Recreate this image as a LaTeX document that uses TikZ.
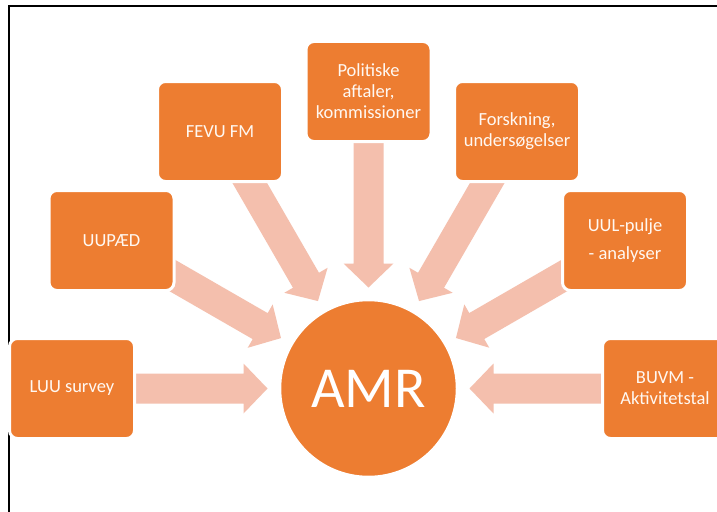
\documentclass[tikz,border=0pt]{standalone}
\usepackage{fontspec}
\setmainfont{Carlito}
\usetikzlibrary{calc}
\definecolor{boxorange}{HTML}{ED7D31}
\definecolor{arrowpink}{HTML}{F4BFAD}
\definecolor{boxtext}{HTML}{FFF8F2}
\tikzset{
  srcbox/.style={rectangle, rounded corners=8pt, fill=boxorange, draw=white,
    line width=3pt, minimum width=125pt, minimum height=100pt, text=boxtext,
    font=\fontsize{18.5}{21}\selectfont, align=center, inner sep=0pt},
  hub/.style={circle, fill=boxorange, draw=white, line width=1.5pt,
    minimum size=176pt, text=white, font=\fontsize{58}{62}\selectfont, inner sep=0pt},
  blockarrow/.style={fill=arrowpink, draw=none},
  frameline/.style={draw=black, line width=1.8pt}
}
% #1 source node, #2 prefix
\newcommand\blockarr[2]{%
  \coordinate (#2s) at (#1.center);
  \coordinate (#2t) at ($(amr.center)!101pt!(#1.center)$);
  \coordinate (#2b) at ($(#2t)!24pt!(#2s)$);
  \fill[blockarrow] ($(#2s)!15pt!90:(#2t)$) -- ($(#2b)!15pt!90:(#2t)$)
    -- ($(#2b)!25pt!90:(#2t)$) -- (#2t) -- ($(#2b)!25pt!-90:(#2t)$)
    -- ($(#2b)!15pt!-90:(#2t)$) -- ($(#2s)!15pt!-90:(#2t)$) -- cycle;
}
\begin{document}
\begin{tikzpicture}[x=1pt,y=-1pt]
\clip (0,0) rectangle (717,511);
\fill[white] (0,0) rectangle (717,511);
\coordinate (fbl) at (9,512);
\coordinate (ftl) at (9,6);
\coordinate (ftr) at (718,6);
\draw[frameline] (fbl) -- (ftl) -- (ftr);

% positions of nodes (used for arrow geometry)
\coordinate (amr) at (368.5,388.5);
\coordinate (fevu) at (220,131.5);
\coordinate (pol) at (368.5,91.5);
\coordinate (forsk) at (517,131.5);
\coordinate (uuped) at (111.5,240.5);
\coordinate (uul) at (625,240.5);
\coordinate (luu) at (72,388.5);
\coordinate (buvm) at (665,388.5);

\blockarr{fevu}{a1}
\blockarr{pol}{a2}
\blockarr{forsk}{a3}
\blockarr{uuped}{a4}
\blockarr{uul}{a5}
\blockarr{luu}{a6}
\blockarr{buvm}{a7}

\node[srcbox] (nfevu) at (fevu) {FEVU FM};
\node[srcbox] (npol) at (pol) {Politiske\\aftaler,\\kommissioner};
\node[srcbox] (nforsk) at (forsk) {Forskning,\\undersøgelser};
\node[srcbox] (nuuped) at (uuped) {UUPÆD};
\node[srcbox] (nuul) at (uul) {UUL-pulje\\[7pt]- analyser};
\node[srcbox] (nluu) at (luu) {LUU survey};
\node[srcbox] (nbuvm) at (buvm) {BUVM -\\Aktivitetstal};
\node[hub] (namr) at (amr) {AMR};
\end{tikzpicture}
\end{document}
